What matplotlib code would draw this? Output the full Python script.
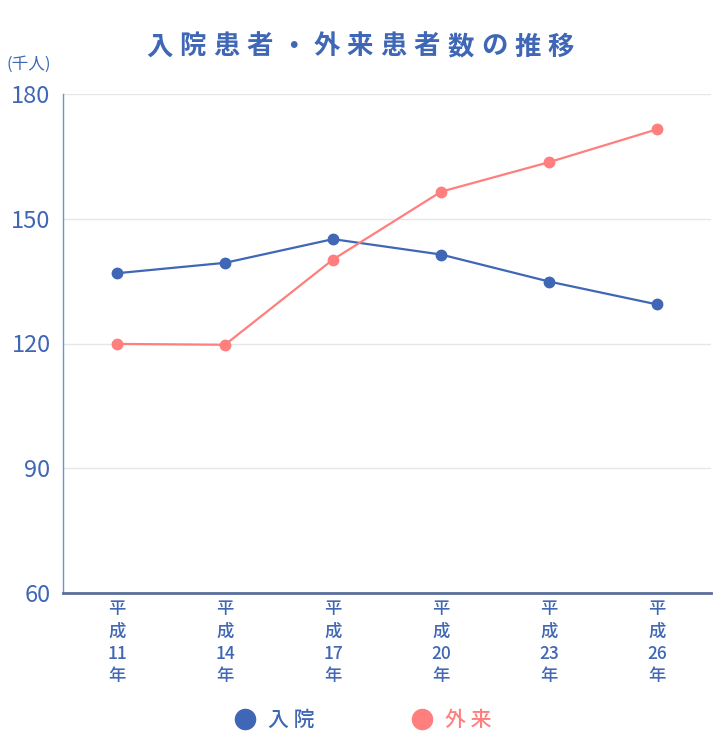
import matplotlib.pyplot as plt
from matplotlib.lines import Line2D

plt.rcParams['font.family'] = ['Noto Sans CJK JP', 'DejaVu Sans']

# data
years = ['11', '14', '17', '20', '23', '26']
inpatient = [136.9, 139.4, 145.1, 141.4, 134.9, 129.4]
outpatient = [119.9, 119.7, 140.2, 156.5, 163.6, 171.5]
yticks = [60, 90, 120, 150, 180]

title = '入院患者・外来患者数の推移'
blue = '#3F67B5'
red = '#FF7F7F'

fig = plt.figure(figsize=(7.22, 7.4), dpi=100)
ax = fig.add_axes([63 / 722, 147 / 740, 648 / 722, 499 / 740])

x = list(range(len(years)))
ax.plot(x, inpatient, color=blue, lw=1.6, marker='o', ms=7.5, zorder=3)
ax.plot(x, outpatient, color=red, lw=1.6, marker='o', ms=7.5, zorder=3)

ax.set_xlim(-0.5, len(years) - 0.5)
ax.set_ylim(60, 180)
ax.set_yticks(yticks)
ax.set_yticklabels([str(v) for v in yticks], color=blue, fontsize=17)
ax.set_xticks(x)
ax.set_xticklabels(['平\n成\n' + y + '\n年' for y in years], color=blue,
                   fontsize=12.5, fontweight='medium', linespacing=1.32, va='top')
ax.tick_params(axis='both', length=0)
ax.tick_params(axis='y', pad=9)
ax.tick_params(axis='x', pad=5)
ax.grid(axis='y', color='#e6e6e6', lw=1)
ax.set_axisbelow(True)

for s in ['top', 'right']:
    ax.spines[s].set_visible(False)
ax.spines['left'].set_color('#6d8fd6')
ax.spines['left'].set_linewidth(1)
ax.spines['bottom'].set_color('#5a6e9a')
ax.spines['bottom'].set_linewidth(2)

# title with wide letter spacing
step = 33.5 / 722
x0 = 360 / 722 - step * (len(title) - 1) / 2
for i, ch in enumerate(title):
    fig.text(x0 + i * step, 1 - 47 / 740, ch, ha='center', va='center',
             fontsize=19, fontweight='bold', color=blue)

fig.text(6 / 722, 1 - 64 / 740, '(千人)', ha='left', va='center', fontsize=12, color=blue)

handles = [Line2D([], [], ls='none', marker='o', ms=14.5, color=blue),
           Line2D([], [], ls='none', marker='o', ms=14.5, color=red)]
leg = fig.legend(handles, ['入 院', '外 来'], loc='center', bbox_to_anchor=(362 / 722, 1 - 720 / 740),
                 ncol=2, frameon=False, prop={'size': 15, 'weight': 'medium'},
                 columnspacing=4.6, handletextpad=0.5, handlelength=1.2)
for t, c in zip(leg.get_texts(), [blue, red]):
    t.set_color(c)

plt.savefig('out.png', dpi=100)
